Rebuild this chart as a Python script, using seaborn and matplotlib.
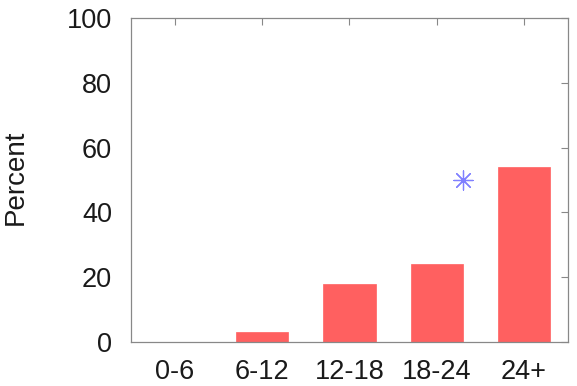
import matplotlib
matplotlib.use("Agg")
import matplotlib.pyplot as plt
import seaborn as sns
import pandas as pd

categories = ["0-6", "6-12", "12-18", "18-24", "24+"]
percent = [0, 3, 18, 24, 54]
star_category = "18-24"
star_value = 50

sns.set_style("white")
plt.rcParams["font.family"] = ["Liberation Sans", "DejaVu Sans"]

fig = plt.figure(figsize=(5.77, 3.86), dpi=100)
ax = fig.add_axes([0.227, 0.114, 0.757, 0.839])

df = pd.DataFrame({"cat": categories, "pct": percent})
sns.barplot(data=df, x="cat", y="pct", color="#ff6060", saturation=1,
            width=0.6, ax=ax, edgecolor="#ff6060", linewidth=0.5)

xi = categories.index(star_category) + 0.3
ax.scatter([xi], [star_value], marker=(8, 2, 0), s=190, color="#8080ff",
           linewidths=0.9, zorder=5)

ax.set_xlim(-0.5, 4.5)
ax.set_ylim(0, 100)
ax.set_yticks([0, 20, 40, 60, 80, 100])
ax.set_xlabel("")
ax.set_ylabel("Percent", fontsize=20, color="#1a1a1a")
ax.yaxis.set_label_coords(-0.235, 0.51)
ax.tick_params(axis="both", direction="in", length=5, width=0.8, color="#888888",
               labelsize=19.5, top=True, right=True, labelcolor="#1a1a1a")
ax.tick_params(axis="y", pad=13.5)
ax.tick_params(axis="x", pad=12.5)
for s in ax.spines.values():
    s.set_visible(True)
    s.set_color("#888888")
    s.set_linewidth(0.9)

fig.savefig("out.png", dpi=100)
